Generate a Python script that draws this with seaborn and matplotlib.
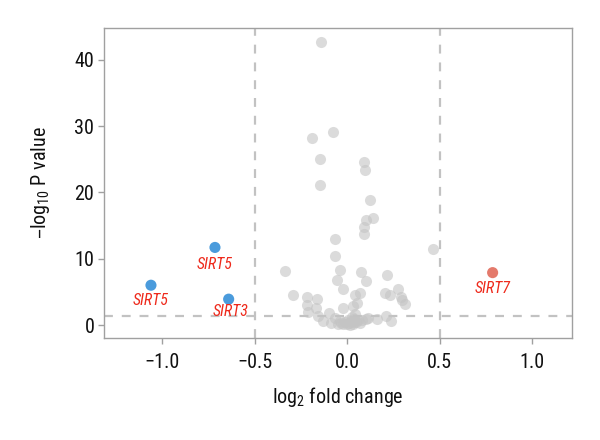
import matplotlib
matplotlib.use("Agg")
import matplotlib.pyplot as plt
import seaborn as sns
import pandas as pd

# background genes (not significant / small change)
gray_fc = [-0.14, -0.077, -0.19, -0.144, 0.09, 0.099, -0.144, 0.126, 0.14, 0.101,
           0.09, 0.09, -0.063, 0.465, -0.066, -0.333, -0.038, 0.077, -0.056, 0.103,
           0.214, -0.023, -0.29, -0.214, -0.162, 0.043, 0.072, 0.204, 0.274, 0.234,
           0.292, 0.297, 0.312, -0.218, -0.17, -0.023, 0.031, 0.052, -0.212, -0.155,
           -0.10, -0.128, -0.086, -0.065, 0.115, 0.16, 0.209, 0.236,
           -0.02, -0.01, 0.0, 0.01, 0.02, 0.03, 0.04, 0.05, 0.06, -0.03,
           0.005, 0.015, 0.025, 0.035, -0.04, 0.07, 0.08, 0.10, -0.05, 0.045]
gray_p = [42.7, 29.1, 28.2, 25.1, 24.6, 23.4, 21.1, 18.9, 16.2, 15.9,
          14.8, 13.7, 12.9, 11.4, 10.4, 8.1, 8.3, 8.0, 6.8, 6.7,
          7.6, 5.5, 4.6, 4.3, 3.9, 4.5, 4.8, 4.9, 5.5, 4.5,
          4.3, 3.7, 3.1, 3.0, 2.5, 2.6, 2.8, 3.3, 1.9, 1.4,
          1.8, 0.65, 0.25, 1.0, 1.0, 0.9, 1.4, 0.65,
          0.2, 0.5, 0.1, 0.3, 0.6, 0.2, 0.9, 0.4, 0.7, 0.3,
          0.8, 0.0, 1.2, 0.5, 0.6, 0.3, 0.8, 0.9, 0.2, 1.6]

# highlighted sirtuins
sig_genes = ["SIRT5", "SIRT5", "SIRT3", "SIRT7"]
sig_fc = [-0.714, -1.06, -0.64, 0.787]
sig_p = [11.7, 6.0, 3.9, 7.9]
sig_dir = ["down", "down", "down", "up"]

df = pd.DataFrame({
    "fc": gray_fc + sig_fc,
    "p": gray_p + sig_p,
    "group": ["ns"] * len(gray_fc) + sig_dir,
})

sns.set_theme(style="white")
plt.rcParams["font.family"] = ["Roboto Condensed", "Liberation Sans Narrow",
                               "DejaVu Sans"]
plt.rcParams["font.stretch"] = "condensed"

fig = plt.figure(figsize=(6, 4.4), dpi=100)
ax = fig.add_axes([0.1733, 0.2318, 0.78, 0.7046])

ns = df[df["group"] == "ns"]
sig = df[df["group"] != "ns"]
sns.scatterplot(data=ns, x="fc", y="p", color="#c4c4c4", alpha=0.6, s=64,
                linewidth=0, ax=ax, legend=False)
sns.scatterplot(data=sig, x="fc", y="p", hue="group",
                palette={"down": "#4a9bdc", "up": "#e47a6c"}, s=64,
                linewidth=0, ax=ax, legend=False)

# label offsets below each point (in data units)
label_dx = [0.0, 0.0, 0.01, 0.0]
label_dy = [2.5, 2.3, 1.8, 2.4]
for g, x, y, dx, dy in zip(sig_genes, sig_fc, sig_p, label_dx, label_dy):
    ax.text(x + dx, y - dy, g, color="#ee2a1c", fontsize=11.5, fontstyle="italic",
            ha="center", va="center")

ax.axvline(-0.5, color="#c2c2c2", ls=(0, (4, 4)), lw=1.6, zorder=0)
ax.axvline(0.5, color="#c2c2c2", ls=(0, (4, 4)), lw=1.6, zorder=0)
ax.axhline(1.3, color="#c2c2c2", ls=(0, (4, 4)), lw=1.6, zorder=0)

ax.set_xlim(-1.314, 1.216)
ax.set_ylim(-1.96, 44.8)
ax.set_xticks([-1.0, -0.5, 0.0, 0.5, 1.0])
ax.set_xticklabels(["\u22121.0", "\u22120.5", "0.0", "0.5", "1.0"])
ax.set_yticks([0, 10, 20, 30, 40])

for sp in ax.spines.values():
    sp.set_color("#a0a0a0")
    sp.set_linewidth(1.0)
ax.tick_params(axis="both", which="major", length=4, width=1, color="#a0a0a0",
               labelsize=14.5, labelcolor="#111111", bottom=True, left=True)
ax.tick_params(axis="x", pad=7)
ax.tick_params(axis="y", pad=3)

ax.set_xlabel(r"$\mathregular{log_2}$ fold change", fontsize=14.5, color="#111111", labelpad=9)
ax.set_ylabel("\u2013" + r"$\mathregular{log_{10}}$ P value", fontsize=14.5,
              color="#111111", labelpad=16)

fig.savefig("out.png", dpi=100)
